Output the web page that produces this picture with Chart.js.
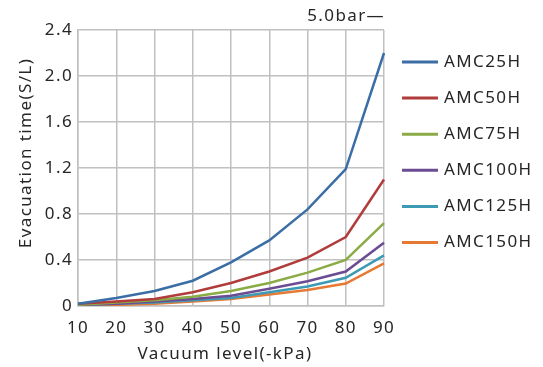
<html>
<head>
<meta charset="UTF-8">
<script src="https://cdn.jsdelivr.net/npm/chart.js@4.4.1/dist/chart.umd.min.js"></script>
<style>
  body { margin: 0; background: #fff; }
  #wrap { width: 543px; height: 367px; }
</style>
</head>
<body>
<div id="wrap"><canvas id="c" width="543" height="367"></canvas></div>
<script>
// vacuum level (-kPa)
var levels = ['10', '20', '30', '40', '50', '60', '70', '80', '90'];
var yTicks = [0, 0.4, 0.8, 1.2, 1.6, 2.0, 2.4];

// evacuation time (S/L)
var amc25h  = [0.02, 0.07, 0.13, 0.22, 0.38, 0.57, 0.84, 1.19, 2.20];
var amc50h  = [0.02, 0.04, 0.06, 0.12, 0.20, 0.30, 0.42, 0.60, 1.10];
var amc75h  = [0.01, 0.03, 0.05, 0.08, 0.13, 0.20, 0.29, 0.40, 0.72];
var amc100h = [0.01, 0.02, 0.04, 0.06, 0.09, 0.15, 0.215, 0.30, 0.55];
var amc125h = [0.01, 0.02, 0.03, 0.05, 0.07, 0.12, 0.17, 0.245, 0.44];
var amc150h = [0.01, 0.01, 0.02, 0.04, 0.06, 0.10, 0.14, 0.195, 0.37];

var names  = ['AMC25H', 'AMC50H', 'AMC75H', 'AMC100H', 'AMC125H', 'AMC150H'];
var series = [amc25h, amc50h, amc75h, amc100h, amc125h, amc150h];
var colors = ['#3a6ea5', '#b03c3c', '#8aab45', '#6b4c93', '#3c9ab5', '#e67a35'];

var FONT = '"Noto Sans", "DejaVu Sans", sans-serif';
var TXT = '#262626';
var SPACING = '1.4px';

var datasets = [];
for (var i = 0; i < series.length; i++) {
  datasets.push({
    label: names[i],
    data: series[i],
    borderColor: colors[i],
    backgroundColor: colors[i],
    borderWidth: 2.5,
    pointRadius: 0,
    tension: 0,
    fill: false
  });
}

// wider letters like the original font
var spacing = {
  id: 'spacing',
  beforeDraw: function(chart) { chart.ctx.letterSpacing = SPACING; }
};

// extra text + legend drawn by hand
var extras = {
  id: 'extras',
  afterDraw: function(chart) {
    var ctx = chart.ctx, a = chart.chartArea;
    ctx.save();
    ctx.letterSpacing = SPACING;
    ctx.fillStyle = TXT;
    ctx.font = '17px ' + FONT;

    // top right note
    ctx.textAlign = 'right';
    ctx.textBaseline = 'middle';
    ctx.fillText('5.0bar\u2014', a.right + 1, 16);

    // x title
    ctx.textAlign = 'center';
    ctx.fillText('Vacuum level(-kPa)', 225, 354);

    // y title
    ctx.save();
    ctx.translate(26, 153);
    ctx.rotate(-Math.PI / 2);
    ctx.fillText('Evacuation time(S/L)', 0, 0);
    ctx.restore();

    // legend
    ctx.textAlign = 'left';
    var ds = chart.data.datasets;
    for (var i = 0; i < ds.length; i++) {
      var y = 62 + i * 36.1;
      ctx.strokeStyle = ds[i].borderColor;
      ctx.lineWidth = 3;
      ctx.beginPath();
      ctx.moveTo(402, y);
      ctx.lineTo(438, y);
      ctx.stroke();
      ctx.fillText(ds[i].label, 444, y);
    }
    ctx.restore();
  }
};

new Chart(document.getElementById('c').getContext('2d'), {
  type: 'line',
  data: { labels: levels, datasets: datasets },
  options: {
    responsive: false,
    animation: false,
    layout: { padding: { top: 30, right: 159, left: 0, bottom: 0 } },
    plugins: { legend: { display: false }, tooltip: { enabled: false } },
    scales: {
      x: {
        offset: false,
        grid: { color: '#c0c0c0', lineWidth: 1.5, drawTicks: false },
        border: { color: '#c0c0c0', width: 1.5 },
        ticks: { color: TXT, font: { family: FONT, size: 17 }, padding: 12, maxRotation: 0, autoSkip: false },
        afterFit: function(s) { s.height = 61; }
      },
      y: {
        min: 0, max: 2.4,
        afterBuildTicks: function(s) { s.ticks = yTicks.map(function(v) { return { value: v }; }); },
        grid: { color: '#c0c0c0', lineWidth: 1.5, drawTicks: false },
        border: { color: '#c0c0c0', width: 1.5 },
        ticks: {
          color: TXT, font: { family: FONT, size: 17 }, padding: 5,
          callback: function(v) { return v === 0 ? '0' : v.toFixed(1); }
        },
        afterFit: function(s) { s.width = 78; }
      }
    }
  },
  plugins: [spacing, extras]
});
</script>
</body>
</html>
